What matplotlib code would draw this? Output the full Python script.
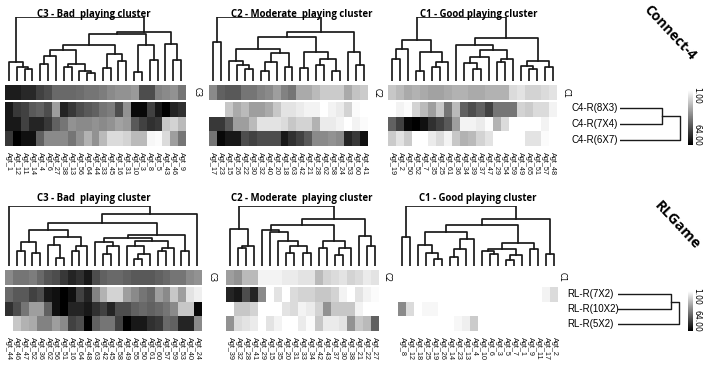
import numpy as np
import matplotlib.pyplot as plt

W, H = 707, 366

# ---------------- data ----------------
# Connect-4 (top)
c4_c3_agents = ['Agt_1', 'Agt_12', 'Agt_11', 'Agt_14', 'Agt_4', 'Agt_6', 'Agt_27', 'Agt_38', 'Agt_13', 'Agt_56', 'Agt_64', 'Agt_44',
                'Agt_33', 'Agt_45', 'Agt_16', 'Agt_31', 'Agt_10', 'Agt_3', 'Agt_8', 'Agt_5', 'Agt_43', 'Agt_46', 'Agt_9']
c4_c3_cluster = [57, 57, 54, 54, 48, 45, 38, 38, 38, 37, 35, 35, 33, 30, 28, 28, 26, 45, 45, 32, 30, 28, 35]
c4_c3_r1 = [58, 50, 48, 42, 40, 45, 25, 55, 50, 45, 42, 40, 35, 33, 45, 28, 62, 62, 48, 58, 64, 55, 52]
c4_c3_r2 = [58, 58, 48, 55, 55, 50, 40, 35, 28, 30, 30, 28, 30, 28, 24, 26, 42, 48, 52, 50, 15, 12, 18]
c4_c3_r3 = [50, 64, 60, 60, 40, 30, 30, 30, 35, 28, 20, 28, 18, 10, 10, 12, 18, 18, 3, 2, 10, 25, 35]

c4_c2_agents = ['Agt_17', 'Agt_23', 'Agt_15', 'Agt_26', 'Agt_22', 'Agt_30', 'Agt_32', 'Agt_40', 'Agt_20', 'Agt_18', 'Agt_63',
                'Agt_42', 'Agt_21', 'Agt_28', 'Agt_62', 'Agt_58', 'Agt_24', 'Agt_53', 'Agt_60', 'Agt_41']
c4_c2_cluster = [30, 40, 42, 42, 35, 35, 32, 30, 25, 32, 35, 22, 22, 18, 14, 14, 14, 22, 16, 14]
c4_c2_r1 = [1, 1, 15, 22, 18, 25, 25, 22, 15, 8, 8, 6, 4, 4, 1, 4, 6, 12, 2, 1]
c4_c2_r2 = [50, 50, 42, 25, 25, 18, 8, 8, 8, 10, 15, 12, 12, 20, 6, 6, 4, 1, 4, 2]
c4_c2_r3 = [35, 62, 58, 58, 45, 48, 45, 45, 45, 58, 52, 48, 42, 30, 30, 28, 30, 55, 50, 60]

c4_c1_agents = ['Agt_19', 'Agt_2', 'Agt_50', 'Agt_52', 'Agt_7', 'Agt_35', 'Agt_25', 'Agt_61', 'Agt_36', 'Agt_34', 'Agt_39',
                'Agt_37', 'Agt_47', 'Agt_29', 'Agt_54', 'Agt_59', 'Agt_49', 'Agt_65', 'Agt_51', 'Agt_57', 'Agt_48']
c4_c1_cluster = [15, 18, 22, 20, 22, 24, 24, 22, 20, 20, 22, 22, 20, 20, 20, 10, 8, 12, 12, 10, 8]
c4_c1_r1 = [1, 4, 2, 12, 18, 25, 15, 35, 18, 40, 45, 40, 48, 35, 35, 35, 12, 14, 10, 10, 4]
c4_c1_r2 = [40, 48, 62, 64, 60, 52, 48, 42, 25, 4, 4, 6, 2, 20, 10, 1, 1, 1, 1, 4, 1]
c4_c1_r3 = [14, 8, 14, 1, 1, 6, 10, 4, 15, 20, 18, 12, 8, 1, 1, 1, 1, 8, 8, 2, 1]

# RLGame (bottom)
rl_c3_agents = ['Agt_44', 'Agt_46', 'Agt_47', 'Agt_52', 'Agt_36', 'Agt_62', 'Agt_56', 'Agt_51', 'Agt_16', 'Agt_64', 'Agt_48',
                'Agt_63', 'Agt_42', 'Agt_45', 'Agt_58', 'Agt_49', 'Agt_55', 'Agt_50', 'Agt_61', 'Agt_60', 'Agt_57',
                'Agt_59', 'Agt_53', 'Agt_40', 'Agt_24']
rl_c3_cluster = [30, 35, 35, 33, 38, 43, 45, 50, 55, 52, 58, 45, 40, 38, 38, 40, 42, 42, 42, 40, 38, 35, 35, 30, 28]
rl_c3_r1 = [38, 42, 42, 48, 45, 58, 60, 64, 60, 48, 55, 32, 20, 12, 12, 25, 30, 35, 38, 25, 30, 15, 25, 8, 5]
rl_c3_r2 = [52, 45, 35, 25, 25, 40, 60, 64, 55, 55, 58, 52, 48, 55, 45, 45, 40, 38, 40, 38, 35, 30, 15, 15, 62]
rl_c3_r3 = [1, 15, 20, 22, 32, 32, 25, 30, 48, 45, 64, 40, 35, 35, 48, 64, 58, 58, 52, 50, 38, 40, 55, 55, 30]

rl_c2_agents = ['Agt_39', 'Agt_32', 'Agt_28', 'Agt_41', 'Agt_29', 'Agt_15', 'Agt_35', 'Agt_20', 'Agt_31', 'Agt_33', 'Agt_34',
                'Agt_42', 'Agt_43', 'Agt_37', 'Agt_30', 'Agt_38', 'Agt_21', 'Agt_22', 'Agt_27']
rl_c2_cluster = [25, 28, 18, 18, 4, 4, 4, 6, 6, 8, 8, 18, 12, 10, 8, 12, 10, 6, 8]
rl_c2_r1 = [55, 58, 45, 55, 30, 1, 8, 1, 10, 12, 12, 15, 15, 12, 4, 1, 8, 4, 2]
rl_c2_r2 = [1, 15, 15, 12, 1, 1, 1, 8, 10, 4, 6, 12, 28, 15, 15, 15, 4, 1, 1]
rl_c2_r3 = [28, 10, 8, 6, 1, 8, 4, 1, 1, 6, 2, 15, 6, 6, 8, 28, 15, 18, 40]

rl_c1_agents = ['Agt_8', 'Agt_12', 'Agt_18', 'Agt_25', 'Agt_19', 'Agt_26', 'Agt_14', 'Agt_23', 'Agt_13', 'Agt_4', 'Agt_10',
                'Agt_6', 'Agt_3', 'Agt_5', 'Agt_7', 'Agt_1', 'Agt_9', 'Agt_11', 'Agt_17', 'Agt_2']
rl_c1_cluster = [1, 1, 1, 1, 1, 1, 1, 1, 1, 1, 1, 1, 1, 1, 1, 1, 1, 1, 1, 1]
rl_c1_r1 = [1, 1, 1, 1, 1, 1, 1, 1, 1, 1, 1, 1, 1, 1, 1, 1, 1, 1, 4, 10]
rl_c1_r2 = [30, 10, 1, 3, 3, 1, 1, 1, 1, 1, 1, 1, 1, 1, 1, 1, 1, 1, 1, 1]
rl_c1_r3 = [1, 1, 1, 1, 1, 1, 1, 3, 5, 14, 1, 1, 1, 1, 1, 1, 1, 1, 1, 1]

# dendrograms: (left, right, merge height), leaves are column indices
c4_c3_tree = ((0, (1, (2, 3, 0.18), 0.22), 0.30),
              ((((((4, 5, 0.26), 6, 0.39), ((7, 8, 0.22), (9, (10, 11, 0.12), 0.16), 0.27), 0.49),
                 ((12, 13, 0.21), (14, 15, 0.32), 0.42), 0.57),
                ((16, 17, 0.14), (18, 19, 0.33), 0.57), 0.73),
               (20, (21, 22, 0.33), 0.58), 0.77), 1.0)
c4_c2_tree = ((0, 1, 0.61),
              ((((2, (3, (4, 5, 0.18), 0.25), 0.32), (((6, 7, 0.15), 8, 0.30), (9, 10, 0.22), 0.44), 0.50),
                ((11, 12, 0.20), ((13, 14, 0.25), (15, 16, 0.15), 0.34), 0.45), 0.68),
               (17, (18, 19, 0.25), 0.46), 0.77), 1.0)
c4_c1_tree = ((((0, 1, 0.34), 2, 0.50), ((3, 4, 0.15), ((5, 6, 0.22), 7, 0.29), 0.46), 0.64),
              ((8, (((9, (10, 11, 0.19), 0.28), 12, 0.38), ((13, 14, 0.30), 15, 0.35), 0.49), 0.56),
               ((16, (17, 18, 0.19), 0.24), (19, 20, 0.22), 0.31), 0.67), 1.0)
rl_c3_tree = (0,
              ((((((1, 2, 0.25), (3, 4, 0.22), 0.40),
                  ((5, (6, 7, 0.13), 0.35), ((8, 9, 0.25), 10, 0.33), 0.48), 0.60),
                 (((11, ((12, 13, 0.20), 14, 0.33), 0.40),
                   ((15, ((16, 17, 0.11), 18, 0.20), 0.33), ((19, 20, 0.25), 21, 0.30), 0.42), 0.46),
                  (22, 23, 0.25), 0.51), 0.72), 24, 0.87)), 1.0)
rl_c2_tree = ((0, ((1, 2, 0.30), 3, 0.33), 0.61),
              (((4, (5, (6, ((7, 8, 0.22), (9, 10, 0.22), 0.33), 0.42), 0.57), 0.60),
                ((11, 12, 0.30), ((13, 14, 0.19), 15, 0.30), 0.42), 0.69),
               (16, (17, 18, 0.33), 0.50), 0.78), 1.0)
rl_c1_tree = ((0, 1, 0.48),
              ((((2, (3, (4, 5, 0.11), 0.22), 0.35), (((6, 7, 0.15), 8, 0.28), 9, 0.45), 0.56),
                (((10, (11, 12, 0.20), 0.25), ((13, 14, 0.10), 15, 0.18), 0.28), (16, 17, 0.28), 0.39), 0.69),
               (18, 19, 0.20), 0.79), 1.0)

c4_rows = ['C4-R(8X3)', 'C4-R(7X4)', 'C4-R(6X7)']
c4_row_tree = ((0, 1, 0.70), 2, 1.0)
rl_rows = ['RL-R(7X2)', 'RL-R(10X2)', 'RL-R(5X2)']
rl_row_tree = ((0, 1, 0.87), 2, 1.0)

titles = ['C3 - Bad  playing cluster', 'C2 - Moderate  playing cluster', 'C1 - Good playing cluster']

# ---------------- drawing ----------------
fig = plt.figure(figsize=(W / 100, H / 100), dpi=100)
LINE = '#1a1a1a'


def px_axes(x0, y0, x1, y1):
    ax = fig.add_axes([x0 / W, 1 - y1 / H, (x1 - x0) / W, (y1 - y0) / H])
    ax.axis('off')
    return ax


def draw_tree(ax, node, horizontal=False):
    if isinstance(node, int):
        return node + 0.5 if not horizontal else node, 0.0
    left, right, h = node
    xl, hl = draw_tree(ax, left, horizontal)
    xr, hr = draw_tree(ax, right, horizontal)
    if horizontal:
        ax.plot([hl, h, h, hr], [xl, xl, xr, xr], color=LINE, lw=1.0)
    else:
        ax.plot([xl, xl, xr, xr], [hl, h, h, hr], color=LINE, lw=1.25)
    return (xl + xr) / 2, h


def panel(x0, x1, top, agents, cluster, r1, r2, r3, tree, title, tag, tag_x, title_x):
    n = len(agents)
    t_title, d0, d1, h0, h1, m0, m1 = top
    fig.text(title_x / W, 1 - t_title / H, title, ha='center', va='center', fontsize=6.9,
             fontweight='bold', family='Open Sans')
    dax = px_axes(x0, d0, x1, d1)
    draw_tree(dax, tree)
    dax.set_xlim(0, n)
    dax.set_ylim(0, 1.0)

    hax = px_axes(x0, h0, x1, h1)
    hax.imshow(np.array([cluster]), cmap='gray_r', vmin=1, vmax=64, aspect='auto', interpolation='nearest')
    fig.text(tag_x / W, 1 - (h0 + h1) / 2 / H, tag, rotation=270, ha='center', va='center', fontsize=5.5)

    max_ = fig.add_axes([x0 / W, 1 - m1 / H, (x1 - x0) / W, (m1 - m0) / H])
    max_.imshow(np.array([r1, r2, r3]), cmap='gray_r', vmin=1, vmax=64, aspect='auto', interpolation='nearest')
    for s in max_.spines.values():
        s.set_visible(False)
    max_.set_yticks([])
    max_.set_xticks(range(n))
    max_.set_xticklabels(agents, rotation=270, fontsize=5.2, family='Liberation Sans', color='#111111')
    max_.tick_params(length=0, pad=4)


def row_part(rows, tree, label_x, dx0, dx1, y0, y1, cb_y0, cb_y1, game, game_xy, game_size):
    for i, r in enumerate(rows):
        yc = y0 + (i + 0.5) * (y1 - y0) / 3
        fig.text(label_x / W, 1 - yc / H, r, ha='left', va='center', fontsize=7, family='Liberation Sans')
    rax = px_axes(dx0, y0, dx1, y1)
    draw_tree(rax, tree, horizontal=True)
    rax.set_xlim(0, 1.03)
    rax.set_ylim(2.5, -0.5)

    cax = px_axes(688, cb_y0, 693, cb_y1)
    cax.imshow(np.linspace(1, 64, 100)[:, None], cmap='gray_r', vmin=1, vmax=64, aspect='auto')
    fig.text(697 / W, 1 - (cb_y0 - 3) / H, '1.00', rotation=270, ha='center', va='top', fontsize=5.5)
    fig.text(697 / W, 1 - (cb_y1 + 1) / H, '64.00', rotation=270, ha='center', va='bottom', fontsize=5.5)

    fig.text(game_xy[0] / W, 1 - game_xy[1] / H, game, rotation=-47, ha='center', va='center',
             fontsize=game_size, fontweight='bold', family='Open Sans')


top = (14, 17, 81, 85, 100, 102, 146)
bot = (198, 206, 266, 270, 285, 287, 331)

panel(5, 185, top, c4_c3_agents, c4_c3_cluster, c4_c3_r1, c4_c3_r2, c4_c3_r3, c4_c3_tree, titles[0], 'C3', 197, 94)
panel(209, 368, top, c4_c2_agents, c4_c2_cluster, c4_c2_r1, c4_c2_r2, c4_c2_r3, c4_c2_tree, titles[1], 'C2', 377, 302)
panel(388, 557, top, c4_c1_agents, c4_c1_cluster, c4_c1_r1, c4_c1_r2, c4_c1_r3, c4_c1_tree, titles[2], 'C1', 566, 479)

panel(5, 201, bot, rl_c3_agents, rl_c3_cluster, rl_c3_r1, rl_c3_r2, rl_c3_r3, rl_c3_tree, titles[0], 'C3', 212, 94)
panel(226, 379, bot, rl_c2_agents, rl_c2_cluster, rl_c2_r1, rl_c2_r2, rl_c2_r3, rl_c2_tree, titles[1], 'C2', 387, 302)
panel(398, 558, bot, rl_c1_agents, rl_c1_cluster, rl_c1_r1, rl_c1_r2, rl_c1_r3, rl_c1_tree, titles[2], 'C1', 562, 478)

row_part(c4_rows, c4_row_tree, 572, 620, 682, 100, 148, 90, 145, 'Connect-4', (670, 33), 10)
row_part(rl_rows, rl_row_tree, 567, 618, 681, 287, 331, 291, 331, 'RLGame', (677, 225), 10.5)

fig.savefig('out.png', dpi=100)
